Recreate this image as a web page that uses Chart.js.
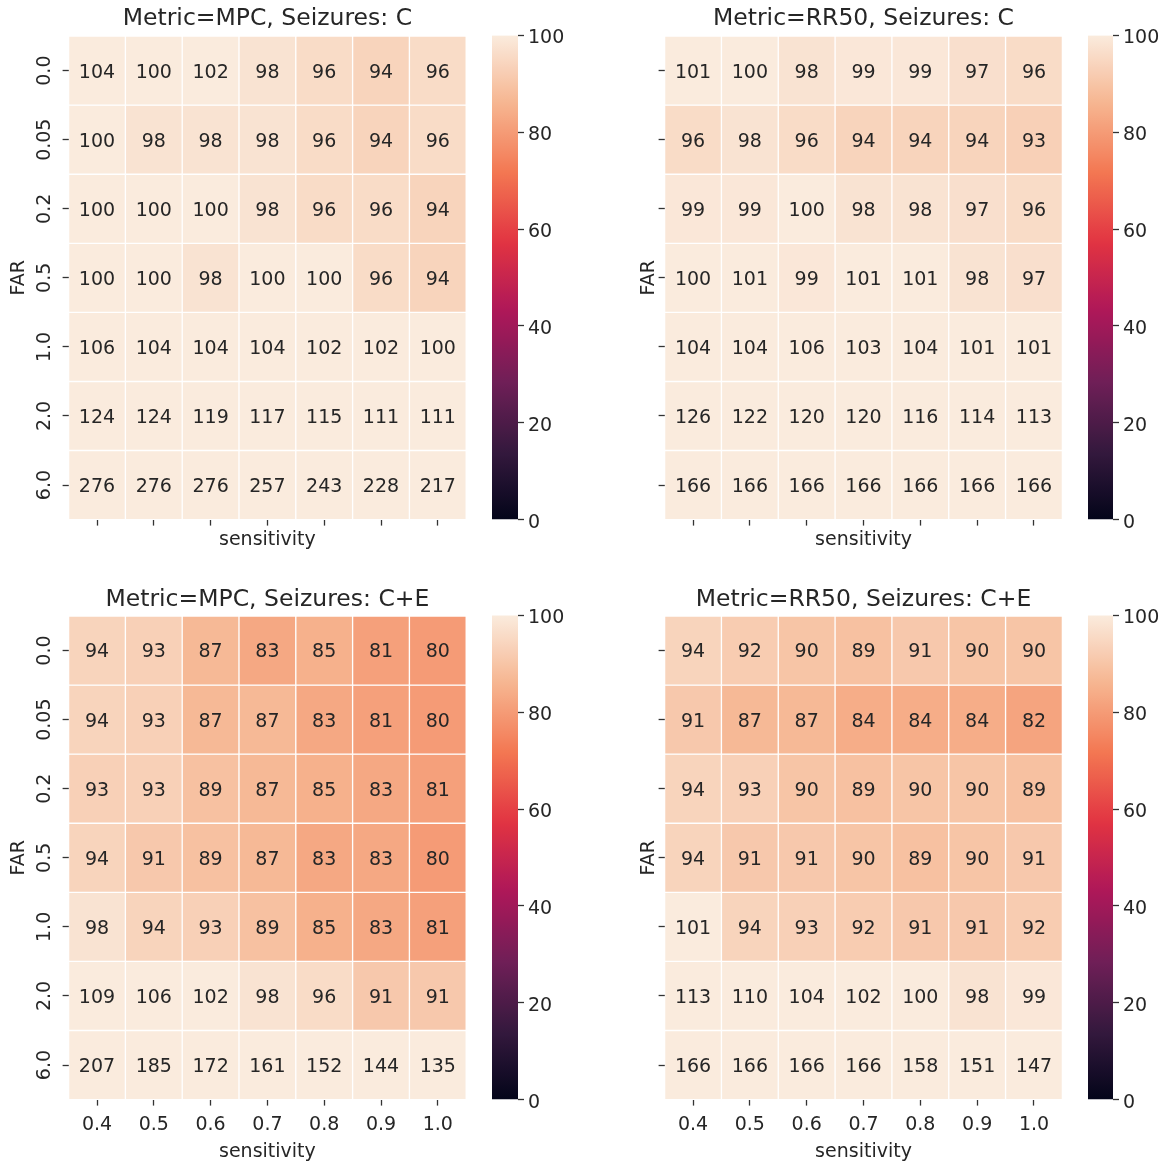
<!DOCTYPE html>
<html><head><meta charset="utf-8">
<script src="https://cdn.jsdelivr.net/npm/chart.js@4.4.0/dist/chart.umd.min.js"></script>
<style>
html,body{margin:0;padding:0;background:#fff;}
#wrap{position:relative;width:1173px;height:1165px;overflow:hidden;background:#fff;}
canvas{position:absolute;}
</style></head><body>
<div id="wrap">
<canvas id="h1" width="480" height="580" style="left:0px;top:0px;width:480px;height:580px"></canvas>
<canvas id="c1" width="100" height="580" style="left:480px;top:0px;width:100px;height:580px"></canvas>
<canvas id="h2" width="480" height="580" style="left:600px;top:0px;width:480px;height:580px"></canvas>
<canvas id="c2" width="97" height="580" style="left:1076px;top:0px;width:97px;height:580px"></canvas>
<canvas id="h3" width="480" height="585" style="left:0px;top:580px;width:480px;height:585px"></canvas>
<canvas id="c3" width="100" height="585" style="left:480px;top:580px;width:100px;height:585px"></canvas>
<canvas id="h4" width="480" height="585" style="left:600px;top:580px;width:480px;height:585px"></canvas>
<canvas id="c4" width="97" height="585" style="left:1076px;top:580px;width:97px;height:585px"></canvas>
</div>
<script>
// ---------------- data ----------------
const sensitivity = ['0.4', '0.5', '0.6', '0.7', '0.8', '0.9', '1.0'];
const far = ['0.0', '0.05', '0.2', '0.5', '1.0', '2.0', '6.0'];
const cbarTicks = [0, 20, 40, 60, 80, 100];

const mpcC = [
  [104, 100, 102, 98, 96, 94, 96],
  [100, 98, 98, 98, 96, 94, 96],
  [100, 100, 100, 98, 96, 96, 94],
  [100, 100, 98, 100, 100, 96, 94],
  [106, 104, 104, 104, 102, 102, 100],
  [124, 124, 119, 117, 115, 111, 111],
  [276, 276, 276, 257, 243, 228, 217]
];
const rr50C = [
  [101, 100, 98, 99, 99, 97, 96],
  [96, 98, 96, 94, 94, 94, 93],
  [99, 99, 100, 98, 98, 97, 96],
  [100, 101, 99, 101, 101, 98, 97],
  [104, 104, 106, 103, 104, 101, 101],
  [126, 122, 120, 120, 116, 114, 113],
  [166, 166, 166, 166, 166, 166, 166]
];
const mpcCE = [
  [94, 93, 87, 83, 85, 81, 80],
  [94, 93, 87, 87, 83, 81, 80],
  [93, 93, 89, 87, 85, 83, 81],
  [94, 91, 89, 87, 83, 83, 80],
  [98, 94, 93, 89, 85, 83, 81],
  [109, 106, 102, 98, 96, 91, 91],
  [207, 185, 172, 161, 152, 144, 135]
];
const rr50CE = [
  [94, 92, 90, 89, 91, 90, 90],
  [91, 87, 87, 84, 84, 84, 82],
  [94, 93, 90, 89, 90, 90, 89],
  [94, 91, 91, 90, 89, 90, 91],
  [101, 94, 93, 92, 91, 91, 92],
  [113, 110, 104, 102, 100, 98, 99],
  [166, 166, 166, 166, 158, 151, 147]
];
const vmin = 0, vmax = 100;

// ---------------- colormap (rocket) ----------------
const ROCKET = [[0, '#03051a'], [1/7, '#35193e'], [2/7, '#701f57'], [3/7, '#ad1759'],
                [4/7, '#e13342'], [5/7, '#f37651'], [6/7, '#f6b48f'], [1, '#faebdd']];
function hexRgb(h) { return [parseInt(h.slice(1,3),16), parseInt(h.slice(3,5),16), parseInt(h.slice(5,7),16)]; }
function cmap(t) {
  t = Math.max(0, Math.min(1, t));
  for (let i = 0; i < ROCKET.length - 1; i++) {
    const [t0, c0] = ROCKET[i], [t1, c1] = ROCKET[i+1];
    if (t <= t1) {
      const f = (t - t0) / (t1 - t0);
      const a = hexRgb(c0), b = hexRgb(c1);
      return 'rgb(' + a.map((v, k) => Math.round(v + f * (b[k] - v))).join(',') + ')';
    }
  }
  return ROCKET[ROCKET.length-1][1];
}

Chart.defaults.font.family = "'DejaVu Sans', sans-serif";
Chart.defaults.color = '#262626';
const TXT = '#262626', TICKC = '#333333';

function heatmap(id, values, title, g) {
  const datasets = far.map((f, r) => ({
    label: f,
    data: sensitivity.map(() => [r, r + 1]),
    backgroundColor: values[r].map(v => cmap((v - vmin) / (vmax - vmin))),
    borderColor: '#ffffff', borderWidth: 1, borderSkipped: false,
    barPercentage: 1, categoryPercentage: 1, grouped: false
  }));
  const annot = {
    id: 'annot',
    afterDatasetsDraw(chart) {
      const ctx = chart.ctx;
      ctx.save();
      ctx.fillStyle = TXT;
      ctx.font = "19px 'DejaVu Sans'";
      ctx.textAlign = 'center';
      ctx.textBaseline = 'middle';
      chart.data.datasets.forEach((ds, r) => {
        chart.getDatasetMeta(r).data.forEach((el, c) => {
          ctx.fillText(String(values[r][c]), el.x, (el.y + el.base) / 2 + 2);
        });
      });
      ctx.restore();
    }
  };
  new Chart(document.getElementById(id), {
    type: 'bar',
    data: { labels: sensitivity, datasets },
    plugins: [annot],
    options: {
      responsive: false, animation: false, devicePixelRatio: 1,
      layout: { padding: { left: 0, top: g.padTop, right: g.padRight, bottom: 0 } },
      plugins: {
        legend: { display: false }, tooltip: { enabled: false },
        title: { display: true, text: title, fullSize: false, color: TXT,
                 font: { size: 23.5, weight: 'normal' }, padding: { top: 0, bottom: g.titlePadB } }
      },
      scales: {
        x: {
          type: 'category', offset: true,
          grid: { display: true, drawOnChartArea: false, drawTicks: true, tickLength: 6,
                  tickWidth: 1.3, tickColor: TICKC, offset: false },
          border: { display: false },
          ticks: { padding: 8, color: TXT, font: { size: 19 }, maxRotation: 0, autoSkip: false,
                   callback: (v, i) => g.xLabels ? sensitivity[i] : '' },
          title: { display: true, text: 'sensitivity', color: TXT, font: { size: 19 },
                   padding: { top: 0, bottom: g.xTitlePadB } },
          afterFit: s => { s.height = g.xH; }
        },
        y: {
          type: 'linear', min: 0, max: 7, reverse: true,
          afterBuildTicks: s => { s.ticks = far.map((f, i) => ({ value: i + 0.5 })); },
          grid: { display: true, drawOnChartArea: false, drawTicks: true, tickLength: 6,
                  tickWidth: 1.3, tickColor: TICKC },
          border: { display: false },
          ticks: { autoSkip: false, minRotation: 90, maxRotation: 90, crossAlign: 'center',
                   padding: g.yTickPad, color: TXT, font: { size: 19 },
                   callback: (v, i) => g.yLabels ? far[i] : '' },
          title: { display: true, text: 'FAR', color: TXT, font: { size: 19 },
                   padding: { top: g.yTitlePadT, bottom: 0 } },
          afterFit: s => { s.width = g.yW; }
        }
      }
    }
  });
}

function colorbar(id, g) {
  function grad(chart) {
    const { ctx, chartArea, scales } = chart;
    if (!chartArea || !scales.y) return cmap(1);
    const y = scales.y;
    const p0 = y.getPixelForValue(vmin), p1 = y.getPixelForValue(vmax);
    const gr = ctx.createLinearGradient(0, p0, 0, p1);
    for (let i = 0; i <= 60; i++) { const t = i / 60; gr.addColorStop(t, cmap(t)); }
    return gr;
  }
  new Chart(document.getElementById(id), {
    type: 'bar',
    data: { labels: [''], datasets: [{ data: [[vmin, vmax]], backgroundColor: ctx => grad(ctx.chart),
            borderWidth: 0, barPercentage: 1, categoryPercentage: 1 }] },
    options: {
      responsive: false, animation: false, devicePixelRatio: 1,
      layout: { padding: { left: g.padL, top: g.padT, bottom: g.padB, right: 0 } },
      plugins: { legend: { display: false }, tooltip: { enabled: false } },
      scales: {
        x: { display: false, offset: true },
        y: {
          position: 'right', min: vmin, max: vmax,
          afterBuildTicks: s => { s.ticks = cbarTicks.map(v => ({ value: v })); },
          grid: { display: true, drawOnChartArea: false, drawTicks: true, tickLength: 6,
                  tickWidth: 1.3, tickColor: TICKC },
          border: { display: false },
          ticks: { padding: 4, labelOffset: 3, color: TXT, font: { size: 19 }, autoSkip: false },
          afterFit: s => { s.width = g.yW; }
        }
      }
    }
  });
}

heatmap('h1', mpcC, 'Metric=MPC, Seizures: C',
  { padTop: 5, padRight: 13.8, titlePadB: 2.9, xH: 60.4, xTitlePadB: 28.6, xLabels: false,
    yW: 68.6, yTitlePadT: 7.6, yTickPad: -3.5, yLabels: true });
heatmap('h2', rr50C, 'Metric=RR50, Seizures: C',
  { padTop: 5, padRight: 17.6, titlePadB: 2.9, xH: 60.4, xTitlePadB: 28.6, xLabels: false,
    yW: 64.6, yTitlePadT: 37.6, yTickPad: 0, yLabels: false });
heatmap('h3', mpcCE, 'Metric=MPC, Seizures: C+E',
  { padTop: 6.2, padRight: 13.8, titlePadB: 1.6, xH: 65.4, xTitlePadB: 1.6, xLabels: true,
    yW: 68.6, yTitlePadT: 7.6, yTickPad: -3.5, yLabels: true });
heatmap('h4', rr50CE, 'Metric=RR50, Seizures: C+E',
  { padTop: 6.2, padRight: 17.6, titlePadB: 1.6, xH: 65.4, xTitlePadB: 1.6, xLabels: true,
    yW: 64.6, yTitlePadT: 37.6, yTickPad: 0, yLabels: false });

colorbar('c1', { padL: 12, padT: 35.5, padB: 60.4, yW: 62 });
colorbar('c2', { padL: 12, padT: 35.5, padB: 60.4, yW: 60 });
colorbar('c3', { padL: 12, padT: 35.4, padB: 65.4, yW: 62 });
colorbar('c4', { padL: 12, padT: 35.4, padB: 65.4, yW: 60 });
</script>
</body></html>
